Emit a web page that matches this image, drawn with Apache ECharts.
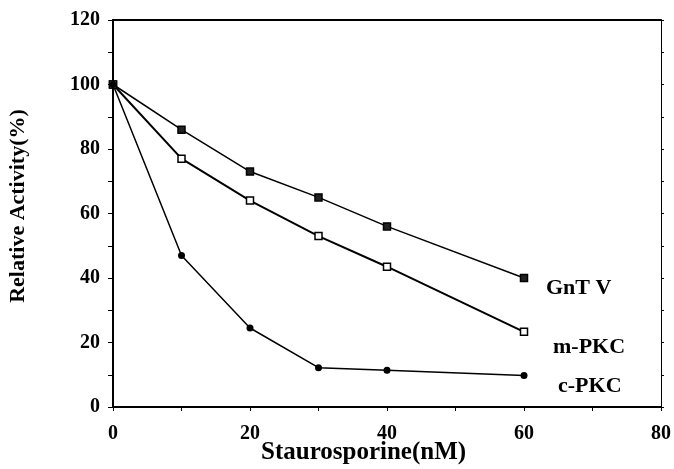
<!DOCTYPE html>
<html>
<head>
<meta charset="utf-8">
<script src="https://cdn.jsdelivr.net/npm/echarts@6/dist/echarts.min.js"></script>
<style>
  html, body { margin: 0; padding: 0; background: #fff; }
  #main { width: 674px; height: 469px; }
</style>
</head>
<body>
<div id="main"></div>
<script>
// staurosporine dose (nM)
const doses = [0, 10, 20, 30, 40, 60];
// relative activity (%)
const gntV = [100, 86, 73, 65, 56, 40];
const mPKC = [100, 77, 64, 53, 43.5, 23.3];
const cPKC = [100, 47, 24.5, 12.2, 11.4, 9.8];

const serif = "Liberation Serif";

const pairs = (ys) => doses.map((d, i) => [d, ys[i]]);

const chart = echarts.init(document.getElementById("main"));

const tickLabel = { fontFamily: serif, fontWeight: "bold", fontSize: 20, color: "#000" };

const option = {
  backgroundColor: "#fff",
  animation: false,
  grid: { left: 113, right: 12, top: 20, bottom: 62 },
  xAxis: [
    {
      type: "value", min: 0, max: 80, interval: 20,
      axisLine: { lineStyle: { color: "#000", width: 2 } },
      axisTick: { show: true, length: 4, lineStyle: { color: "#000" } },
      minorTick: { show: true, splitNumber: 2, length: 4, lineStyle: { color: "#000" } },
      splitLine: { show: false },
      axisLabel: Object.assign({ margin: 17 }, tickLabel)
    },
    {
      type: "value", position: "top", min: 0, max: 80,
      axisLine: { show: true, onZero: false, lineStyle: { color: "#000", width: 2 } },
      axisTick: { show: false }, axisLabel: { show: false }, splitLine: { show: false }
    }
  ],
  yAxis: [
    {
      type: "value", min: 0, max: 120, interval: 20,
      axisLine: { show: true, lineStyle: { color: "#000", width: 2 } },
      axisTick: { show: true, length: 5, lineStyle: { color: "#000" } },
      minorTick: { show: true, splitNumber: 2, length: 5, lineStyle: { color: "#000" } },
      splitLine: { show: false },
      axisLabel: Object.assign({ margin: 13 }, tickLabel)
    },
    {
      type: "value", position: "right", min: 0, max: 120, interval: 20,
      axisLine: { show: true, onZero: false, lineStyle: { color: "#000", width: 1 } },
      axisTick: { show: true, length: 3, lineStyle: { color: "#000" } },
      minorTick: { show: true, splitNumber: 2, length: 3, lineStyle: { color: "#000" } },
      axisLabel: { show: false }, splitLine: { show: false }
    }
  ],
  series: [
    {
      name: "GnT V", type: "line", data: pairs(gntV),
      symbol: "rect", symbolSize: 7,
      lineStyle: { color: "#000", width: 1.5 },
      itemStyle: { color: "#222", borderColor: "#000", borderWidth: 1.5 },
      endLabel: { show: true, formatter: "{a}", distance: 0, offset: [22, 10],
        fontFamily: serif, fontWeight: "bold", fontSize: 22, color: "#000" }
    },
    {
      name: "m-PKC", type: "line", data: pairs(mPKC),
      symbol: "rect", symbolSize: 7,
      lineStyle: { color: "#000", width: 2 },
      itemStyle: { color: "#fff", borderColor: "#000", borderWidth: 1.5 },
      endLabel: { show: true, formatter: "{a}", distance: 0, offset: [29, 15],
        fontFamily: serif, fontWeight: "bold", fontSize: 22, color: "#000" }
    },
    {
      name: "c-PKC", type: "line", data: pairs(cPKC),
      symbol: "circle", symbolSize: 7,
      lineStyle: { color: "#000", width: 1.5 },
      itemStyle: { color: "#000" },
      endLabel: { show: true, formatter: "{a}", distance: 0, offset: [34, 11],
        fontFamily: serif, fontWeight: "bold", fontSize: 22, color: "#000" }
    }
  ],
  graphic: [
    {
      type: "text", left: 261, top: 440,
      style: { text: "Staurosporine(nM)", font: "bold 25px " + serif, fill: "#000" }
    },
    {
      type: "text", x: 18, y: 206, rotation: Math.PI / 2,
      style: { text: "Relative Activity(%)", font: "bold 22px " + serif, fill: "#000",
        align: "center", verticalAlign: "middle" }
    }
  ]
};

chart.setOption(option);
</script>
</body>
</html>
